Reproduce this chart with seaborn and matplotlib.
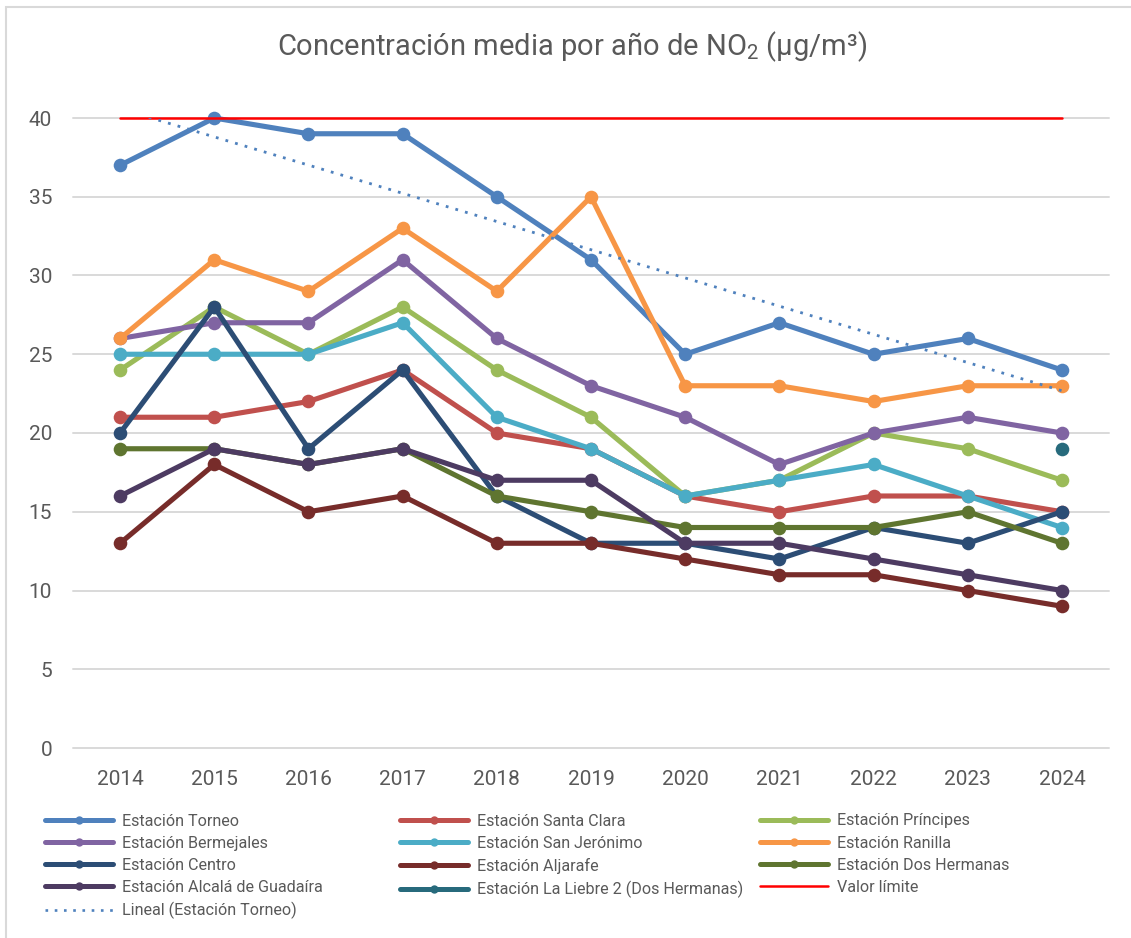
import numpy as np
import pandas as pd
import matplotlib
matplotlib.use("Agg")
import matplotlib.pyplot as plt
from matplotlib.lines import Line2D
from matplotlib.patches import Rectangle
import seaborn as sns

years = [2014, 2015, 2016, 2017, 2018, 2019, 2020, 2021, 2022, 2023, 2024]

torneo = [37, 40, 39, 39, 35, 31, 25, 27, 25, 26, 24]
santa_clara = [21, 21, 22, 24, 20, 19, 16, 15, 16, 16, 15]
principes = [24, 28, 25, 28, 24, 21, 16, 17, 20, 19, 17]
bermejales = [26, 27, 27, 31, 26, 23, 21, 18, 20, 21, 20]
san_jeronimo = [25, 25, 25, 27, 21, 19, 16, 17, 18, 16, 14]
ranilla = [26, 31, 29, 33, 29, 35, 23, 23, 22, 23, 23]
centro = [20, 28, 19, 24, 16, 13, 13, 12, 14, 13, 15]
aljarafe = [13, 18, 15, 16, 13, 13, 12, 11, 11, 10, 9]
dos_hermanas = [19, 19, 18, 19, 16, 15, 14, 14, 14, 15, 13]
alcala = [16, 19, 18, 19, 17, 17, 13, 13, 12, 11, 10]
la_liebre = [None, None, None, None, None, None, None, None, None, None, 19]
valor_limite = [40] * 11

station_names = [
    "Estación Torneo", "Estación Santa Clara", "Estación Príncipes",
    "Estación Bermejales", "Estación San Jerónimo", "Estación Ranilla",
    "Estación Centro", "Estación Aljarafe", "Estación Dos Hermanas",
    "Estación Alcalá de Guadaíra", "Estación La Liebre 2 (Dos Hermanas)",
]
station_values = [
    torneo, santa_clara, principes, bermejales, san_jeronimo, ranilla,
    centro, aljarafe, dos_hermanas, alcala, la_liebre,
]
station_colors = [
    "#4F81BD", "#C0504D", "#9BBB59", "#8064A2", "#4BACC6", "#F79646",
    "#2C4D75", "#772C2A", "#5F7530", "#4D3B62", "#276A7C",
]
limit_color = "#FF0000"
text_color = "#595959"

rows = []
for name, vals in zip(station_names, station_values):
    for y, v in zip(years, vals):
        if v is not None:
            rows.append({"Año": y, "NO2": v, "Estación": name})
df = pd.DataFrame(rows)

sns.set_theme(style="white")
plt.rcParams["font.family"] = ["Roboto", "DejaVu Sans"]
plt.rcParams["mathtext.fontset"] = "custom"
plt.rcParams["mathtext.rm"] = "Roboto"
plt.rcParams["mathtext.it"] = "Roboto"

fig = plt.figure(figsize=(11.31, 9.38), dpi=100)
ax = fig.add_axes([73 / 1131, 1 - 748 / 938, (1109 - 73) / 1131, (748 - 118) / 938])

palette = dict(zip(station_names, station_colors))
sns.lineplot(
    data=df, x="Año", y="NO2", hue="Estación", hue_order=station_names,
    palette=palette, marker="o", markersize=9.8, markeredgewidth=0,
    linewidth=3.7, legend=False, ax=ax, estimator=None, sort=True,
)
for ln in ax.get_lines():
    ln.set_clip_on(False)

# límite legal
limit_line, = ax.plot(years, valor_limite, color=limit_color, lw=1.8,
                      clip_on=False, zorder=5)

# tendencia lineal de la estación Torneo
coef = np.polyfit(years, torneo, 1)
trend_y = np.polyval(coef, years)
trend_line, = ax.plot(years, trend_y, color="#4F81BD", lw=2.0,
                      linestyle=(0, (1, 2.6)), zorder=6)

ax.set_xlim(years[0] - 0.5, years[-1] + 0.5)
ax.set_ylim(0, 40)
ax.set_xticks(years)
ax.set_xticklabels([str(y) for y in years])
ax.set_yticks(range(0, 41, 5))
ax.set_xlabel("")
ax.set_ylabel("")
for s in ax.spines.values():
    s.set_visible(False)
ax.grid(axis="y", color="#D9D9D9", lw=1.4)
ax.grid(axis="x", visible=False)
ax.set_axisbelow(True)
for gl in ax.get_ygridlines():
    gl.set_clip_on(False)
ax.tick_params(axis="both", length=0, labelsize=15, labelcolor=text_color)
ax.tick_params(axis="y", pad=15)
ax.tick_params(axis="x", pad=16)

fig.text(572 / 1131, 1 - 47 / 938,
         "Concentración media por año de NO$_2$ (µg/m³)",
         ha="center", va="center", fontsize=21, color=text_color)


def handle(color, marker=True, ls="-", lw=3.6):
    return Line2D([], [], color=color, lw=lw, ls=ls,
                  marker="o" if marker else None, markersize=6,
                  markeredgewidth=0)


handles = [handle(c) for c in station_colors]
handles.append(handle(limit_color, marker=False, lw=1.8))
handles.append(handle("#4F81BD", marker=False, ls=(0, (1, 2.5)), lw=1.9))
labels = station_names + ["Valor límite", "Lineal (Estación Torneo)"]

# leyenda en tres columnas, ordenada por filas
columns = [[0, 3, 6, 9, 12], [1, 4, 7, 10], [2, 5, 8, 11]]
col_x = [45, 400, 760]
for idx, x0 in zip(columns, col_x):
    fig.legend(
        [handles[i] for i in idx], [labels[i] for i in idx],
        loc="upper left", bbox_to_anchor=(x0 / 1131, 1 - 813.5 / 938),
        frameon=False, fontsize=11.6, labelcolor=text_color,
        handlelength=4.2, handletextpad=0.55, labelspacing=0.44,
        borderpad=0, borderaxespad=0, numpoints=1,
    )

fig.add_artist(Rectangle((6 / 1131, -0.05), 1.2, 1 - 7 / 938 + 0.05,
                         transform=fig.transFigure, fill=False,
                         edgecolor="#D9D9D9", lw=1.5))

fig.savefig("out.png", dpi=100, facecolor="white")
